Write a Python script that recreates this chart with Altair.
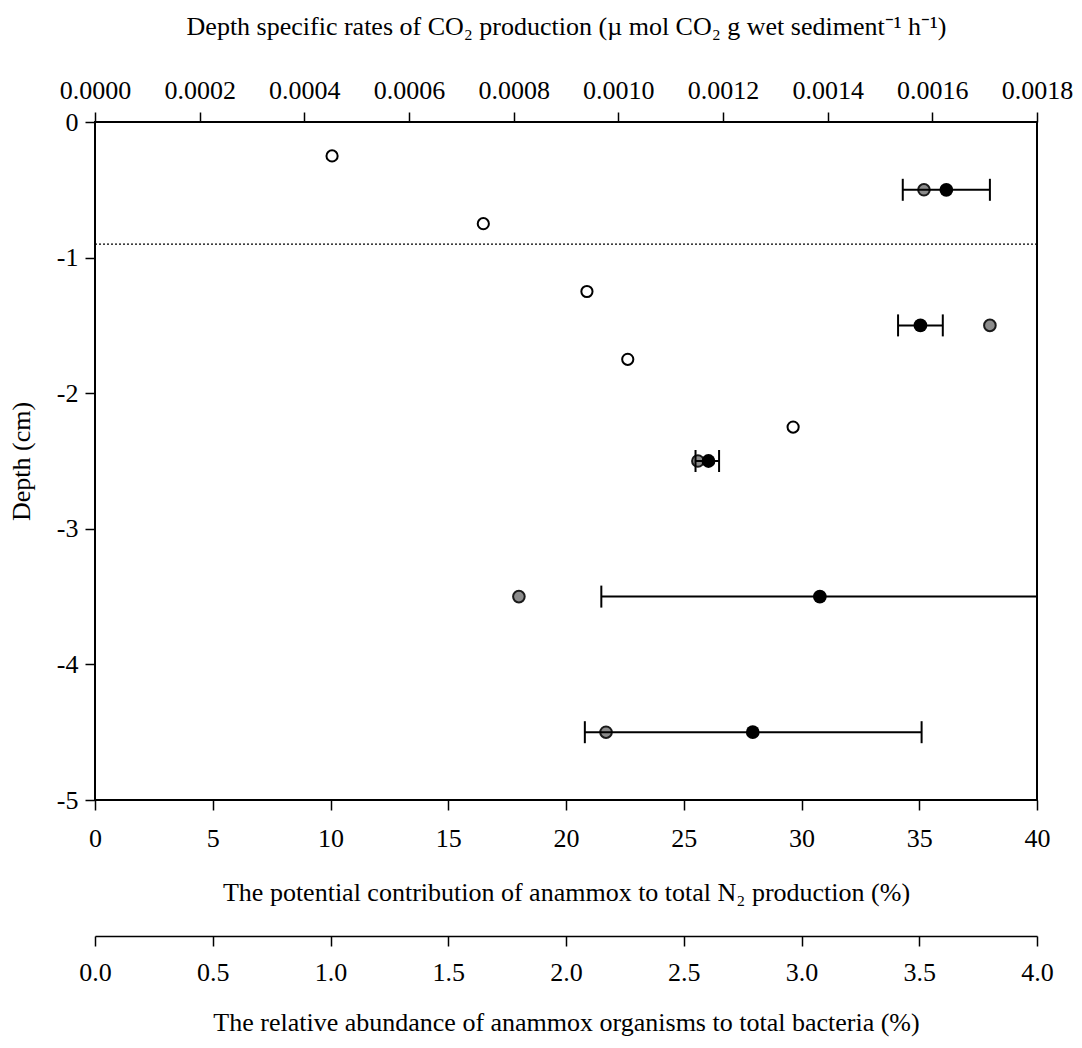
import altair as alt
import pandas as pd

# ---- data ----
depth_co2 = [-0.25, -0.75, -1.25, -1.75, -2.25]
co2_rate = [0.000453, 0.000742, 0.000940, 0.001018, 0.001334]

depth_anx = [-0.5, -1.5, -2.5, -3.5, -4.5]
anammox_pct = [36.15, 35.05, 26.05, 30.78, 27.93]
anammox_lo = [34.3, 34.1, 25.5, 21.5, 20.8]
anammox_hi = [38.0, 36.0, 26.5, 40.0, 35.1]
abundance_pct = [3.52, 3.80, 2.56, 1.80, 2.17]

boundary_depth = [-0.9]

top_ticks = [0.0, 0.0002, 0.0004, 0.0006, 0.0008, 0.0010, 0.0012, 0.0014, 0.0016, 0.0018]
bottom_ticks = [0, 5, 10, 15, 20, 25, 30, 35, 40]
abund_ticks = [0.0, 0.5, 1.0, 1.5, 2.0, 2.5, 3.0, 3.5, 4.0]
depth_ticks = [0, -1, -2, -3, -4, -5]

top_title = "Depth specific rates of CO\u2082 production (\u00b5 mol CO\u2082 g wet sediment\u207b\u00b9 h\u207b\u00b9)"
bottom_title = "The potential contribution of anammox to total N\u2082 production (%)"
abund_title = "The relative abundance of anammox organisms to total bacteria (%)"
y_title = "Depth (cm)"

co2_df = pd.DataFrame({"depth": depth_co2, "rate": co2_rate})
anx_df = pd.DataFrame({"depth": depth_anx, "pct": anammox_pct, "lo": anammox_lo,
                       "hi": anammox_hi, "abund": abundance_pct})
line_df = pd.DataFrame({"depth": boundary_depth})

FONT = "Liberation Serif"
FS = 26
W, H = 942, 678

yenc = alt.Y("depth:Q", scale=alt.Scale(domain=[-5, 0], nice=False),
             axis=alt.Axis(values=depth_ticks, title=y_title, orient="left",
                           labelExpr="datum.value == 0 ? '0' : '-' + abs(datum.value)",
                           tickSize=10, labelPadding=7, titlePadding=22, domain=False))

def xs(dom):
    return alt.Scale(domain=dom, nice=False, zero=False)

dotted = alt.Chart(line_df).mark_rule(color="black", strokeWidth=1.3, strokeDash=[2, 2]).encode(y=yenc)

co2 = alt.Chart(co2_df).mark_circle(size=125, fill="white", stroke="black",
                                    strokeWidth=2, opacity=1).encode(
    x=alt.X("rate:Q", scale=xs([0, 0.0018]),
            axis=alt.Axis(orient="top", values=top_ticks, format=".4f", title=top_title,
                          tickSize=10, labelPadding=9, titlePadding=38, domain=False)),
    y=yenc)

gray = alt.Chart(anx_df).mark_circle(size=135, fill="#8c8c8c", stroke="#1a1a1a",
                                     strokeWidth=2, opacity=1).encode(
    x=alt.X("abund:Q", scale=xs([0, 4]),
            axis=alt.Axis(orient="bottom", offset=136, values=abund_ticks, format=".1f",
                          title=abund_title, tickSize=10, labelPadding=13,
                          titlePadding=24, domain=True)),
    y=yenc)

err = alt.Chart(anx_df).mark_rule(color="black", strokeWidth=2).encode(
    x=alt.X("lo:Q", scale=xs([0, 40]),
            axis=alt.Axis(orient="bottom", values=bottom_ticks, format="d",
                          title=bottom_title, tickSize=10, labelPadding=15,
                          titlePadding=28, domain=False)),
    x2="hi:Q",
    y=yenc)

cap_lo = alt.Chart(anx_df).mark_tick(color="black", thickness=2, size=22,
                                     orient="vertical", opacity=1).encode(
    x=alt.X("lo:Q", scale=xs([0, 40]), axis=None), y=yenc)
cap_hi = alt.Chart(anx_df).mark_tick(color="black", thickness=2, size=22,
                                     orient="vertical", opacity=1).encode(
    x=alt.X("hi:Q", scale=xs([0, 40]), axis=None), y=yenc)

black = alt.Chart(anx_df).mark_circle(size=190, color="black", opacity=1).encode(
    x=alt.X("pct:Q", scale=xs([0, 40]), axis=None), y=yenc)

chart = alt.layer(dotted, co2, gray, err, cap_lo, cap_hi, black).resolve_scale(
    x="independent").resolve_axis(x="independent").properties(
    width=W, height=H,
    autosize=alt.AutoSizeParams(type="none"),
    padding={"left": 87, "top": 114, "right": 36, "bottom": 240},
).configure_view(stroke="black", strokeWidth=2).configure_axis(
    labelFont=FONT, titleFont=FONT, labelFontSize=FS, titleFontSize=FS,
    labelColor="black", titleColor="black", tickColor="black", domainColor="black",
    tickWidth=1.5, domainWidth=1.5, titleFontWeight="normal", grid=False,
    labelFlush=False, labelOverlap=False, labelBound=False,
)

chart.save("out.html", embed_options={"renderer": "svg", "actions": False})
